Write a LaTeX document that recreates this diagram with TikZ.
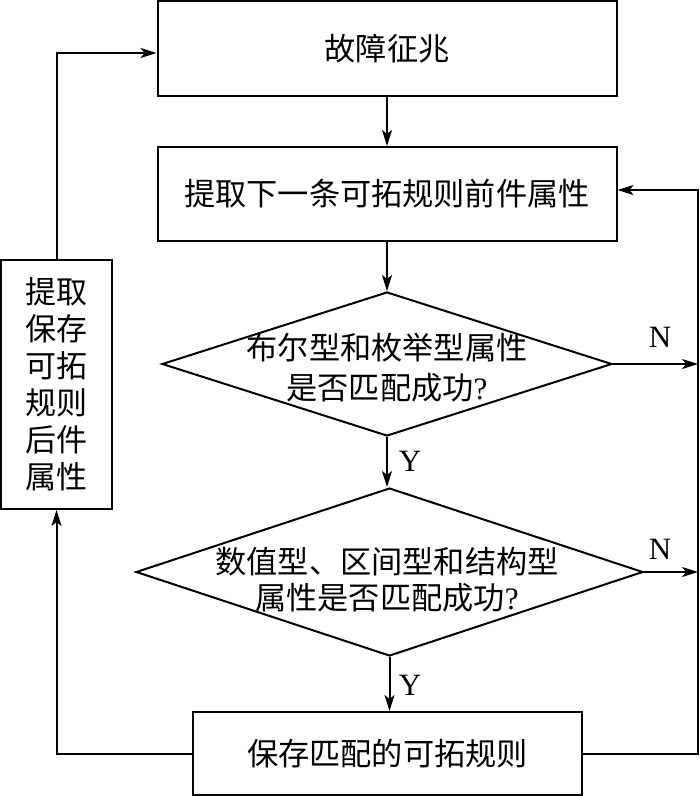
\documentclass[tikz,border=0pt]{standalone}
\usepackage{fontspec}
\setmainfont{Liberation Serif}
\newfontfamily\cjk{Noto Sans CJK SC}
\usetikzlibrary{arrows.meta,shapes.geometric}
\begin{document}
\begin{tikzpicture}[x=1pt,y=-1pt,
  txt/.style={font=\cjk\fontsize{31.2}{40}\selectfont,align=center,inner sep=0pt},
  box/.style={draw,line width=2pt,inner sep=0pt,txt},
  dia/.style={draw,diamond,line width=2pt,inner sep=0pt},
  lbl/.style={font=\rmfamily\fontsize{31}{36}\selectfont,inner sep=0pt},
  conn/.style={line width=2pt,-{Stealth[length=16pt,width=10pt,inset=4pt]}}
]
\useasboundingbox (0,0) rectangle (700,796);
\node[box,minimum width=459pt,minimum height=95pt] (b1) at (387,48.5) {故障征兆};
\node[box,minimum width=459pt,minimum height=94pt] (b2) at (387,194) {提取下一条可拓规则前件属性};
\node[dia,minimum width=450pt,minimum height=144pt] (d1) at (387,364) {};
\node[txt] (t1) at (387,368) {布尔型和枚举型属性\\是否匹配成功{\rmfamily ?}};
\node[dia,minimum width=507pt,minimum height=168pt] (d2) at (389.5,572) {};
\node[txt,font=\cjk\fontsize{31.2}{36}\selectfont] (t2) at (387,580) {数值型、区间型和结构型\\属性是否匹配成功{\rmfamily ?}};
\node[box,minimum width=389pt,minimum height=83pt] (b3) at (387.5,753.5) {保存匹配的可拓规则};
\node[box,minimum width=111pt,minimum height=249pt,font=\cjk\fontsize{31}{37}\selectfont] (lk) at (56.5,384.5) {提取\\保存\\可拓\\规则\\后件\\属性};
\coordinate (rt) at (698,190);
\coordinate (rx) at (698,0);
\draw[conn] (b1) -- (b2);
\draw[conn] (b2) -- (d1.north);
\draw[conn] (d1.south) -- (d2.north -| d1.south);
\draw[conn] (d2.south) -- (b3.north -| d2.south);
\draw[conn] (d1.east) -- (d1.east -| rx);
\draw[conn] (d2.east) -- (d2.east -| rx);
\draw[conn] (b3.east) -| (rt) -- (rt -| b2.east);
\draw[conn] (b3.west) -| (lk.south);
\draw[conn] (lk.north) |- ([yshift=-4.5pt]b1.west);
\node[lbl] (n1) at (660,337) {N};
\node[lbl] (n2) at (660,549) {N};
\node[lbl] (y1) at (410,461) {Y};
\node[lbl] (y2) at (410,685) {Y};
\end{tikzpicture}
\end{document}
